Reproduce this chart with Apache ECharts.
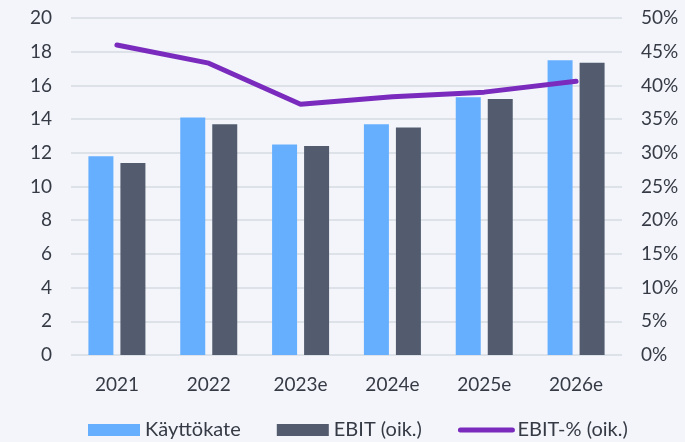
<!DOCTYPE html>
<html>
<head>
<meta charset="utf-8">
<title>Käyttökate ja EBIT</title>
<script src="https://cdn.jsdelivr.net/npm/echarts@6/dist/echarts.min.js"></script>
<style>
    html, body { margin: 0; padding: 0; background: #f3f5fa; }
    #chart { width: 685px; height: 442px; }
</style>
</head>
<body>
<div id="chart"></div>
<script>
/* data */
var years = ['2021', '2022', '2023e', '2024e', '2025e', '2026e'];
var kayttokate = [11.8, 14.1, 12.5, 13.7, 15.3, 17.5];
var ebit = [11.4, 13.7, 12.4, 13.5, 15.2, 17.35];
var ebitPct = [46.0, 43.3, 37.2, 38.3, 39.0, 40.6];

var leftTicks = { min: 0, max: 20, interval: 2 };
var rightTicks = { min: 0, max: 50, interval: 5 };

(function () {
    'use strict';
    var font = 'Lato, "Open Sans", sans-serif';
    var textColor = '#353a45';
    var purple = '#7a2bbd';

    var myChart = echarts.init(document.getElementById('chart'));
    myChart.setOption({
        backgroundColor: '#f3f5fa',
        animation: false,
        textStyle: { fontFamily: font },
        grid: { left: 71, right: 63, top: 18, bottom: 87 },
        legend: {
            top: 420,
            left: 88,
            padding: 0,
            itemWidth: 52,
            itemHeight: 12,
            itemGap: 36,
            textStyle: { fontSize: 20, color: textColor, fontFamily: font },
            data: [
                { name: 'Käyttökate', icon: 'rect' },
                { name: 'EBIT (oik.)', icon: 'rect' },
                { name: 'EBIT-% (oik.)', itemStyle: { opacity: 0 }, lineStyle: { width: 5, cap: 'round' } }
            ]
        },
        xAxis: {
            type: 'category',
            data: years,
            axisLine: { show: false },
            axisTick: { show: false },
            axisLabel: { fontSize: 19, color: textColor, margin: 20 }
        },
        yAxis: [
            {
                type: 'value',
                min: leftTicks.min, max: leftTicks.max, interval: leftTicks.interval,
                axisLine: { show: false },
                axisTick: { show: false },
                splitLine: { lineStyle: { color: '#dde1e8', width: 2 } },
                axisLabel: { fontSize: 19, color: textColor, margin: 19 }
            },
            {
                type: 'value',
                min: rightTicks.min, max: rightTicks.max, interval: rightTicks.interval,
                axisLine: { show: false },
                axisTick: { show: false },
                splitLine: { show: false },
                axisLabel: { fontSize: 19, color: textColor, margin: 19, formatter: '{value}%' }
            }
        ],
        series: [
            {
                name: 'Käyttökate',
                type: 'bar',
                data: kayttokate,
                barWidth: 25,
                barGap: '28%',
                itemStyle: { color: '#66afff' }
            },
            {
                name: 'EBIT (oik.)',
                type: 'bar',
                data: ebit,
                barWidth: 25,
                itemStyle: { color: '#525c6e' }
            },
            {
                name: 'EBIT-% (oik.)',
                type: 'line',
                yAxisIndex: 1,
                data: ebitPct,
                symbol: 'none',
                lineStyle: { color: purple, width: 5, cap: 'round' },
                itemStyle: { color: purple }
            }
        ]
    });
})();
</script>
</body>
</html>
